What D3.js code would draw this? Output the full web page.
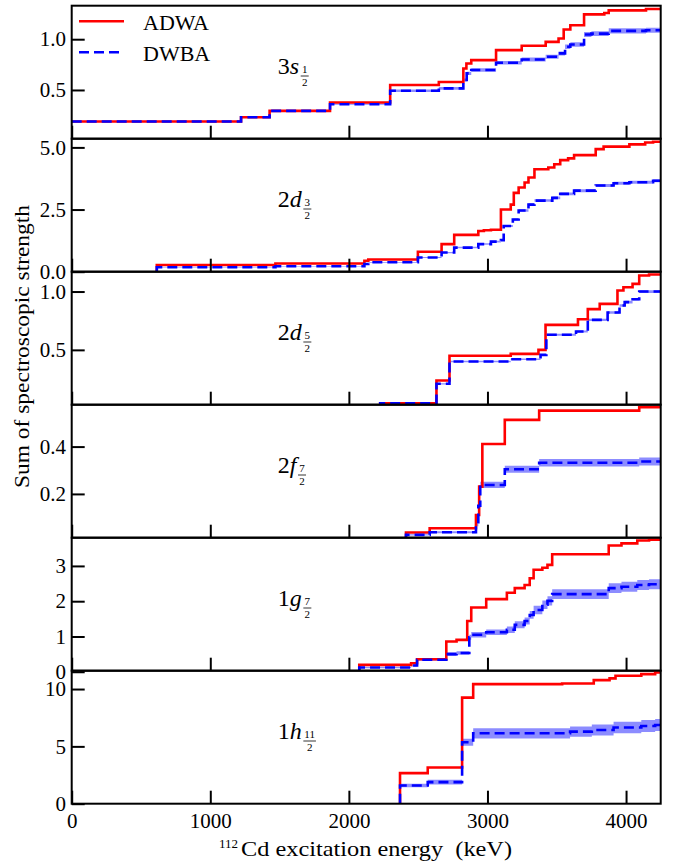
<!DOCTYPE html>
<html><head><meta charset="utf-8">
<script src="https://cdn.jsdelivr.net/npm/d3@7"></script>
<style>body{margin:0;background:#fff} svg{display:block}</style>
</head><body>
<svg id="chart" width="680" height="866"></svg>
<script>
// ---------- data ----------
const xDomain = [0, 4250];
const xTicks = [0, 1000, 2000, 3000, 4000];
const seriesNames = ["ADWA", "DWBA"];

// panel labels: [n, l, numerator, denominator]
const orbitalLabels = [["3","s","1","2"],["2","d","3","2"],["2","d","5","2"],["2","f","7","2"],["1","g","7","2"],["1","h","11","2"]];
const yDomains = [[0.02,1.33],[0,5.35],[0.03,1.17],[0.015,0.577],[0.03,3.8],[0,11.6]];
const yTicks = [[0.5,1.0],[0,2.5,5.0],[0.5,1.0],[0.2,0.4],[0,1,2,3],[0,5,10]];
const yTickFormats = [".1f",".1f",".1f",".1f","d","d"];

// 3s1/2
const s12AdwaE = [0,1222,1428,1864,2298,2649,2826,2848,2883,3062,3247,3420,3513,3550,3598,3697,3843,3875,4144];
const s12AdwaS = [0.19,0.232,0.294,0.376,0.549,0.578,0.712,0.761,0.794,0.892,0.935,0.974,1.007,1.095,1.137,1.245,1.258,1.284,1.297];
const s12DwbaE = [0,1222,1428,1864,2298,2649,2826,2850,2883,3062,3247,3420,3513,3560,3598,3697,3750,3875,4144];
const s12DwbaS = [0.19,0.232,0.294,0.36,0.493,0.516,0.598,0.663,0.696,0.768,0.80,0.827,0.86,0.925,0.948,1.046,1.055,1.082,1.088];
const s12DwbaErr = [0.004,0.004,0.005,0.006,0.012,0.013,0.015,0.016,0.017,0.018,0.019,0.02,0.02,0.022,0.022,0.024,0.024,0.025,0.025];

// 2d3/2
const d32AdwaE = [614,614,1470,2112,2140,2498,2669,2760,2934,2974,3025,3097,3168,3190,3225,3268,3296,3339,3439,3482,3525,3582,3625,3781,3838,4024,4138,4195];
const d32AdwaS = [0,0.27,0.33,0.44,0.49,0.80,1.11,1.48,1.64,1.67,1.69,2.50,2.70,3.17,3.39,3.59,3.79,4.12,4.19,4.32,4.49,4.56,4.69,4.93,5.03,5.12,5.20,5.23];
const d32DwbaE = [614,614,1470,2112,2140,2498,2669,2760,2934,3025,3097,3117,3183,3225,3296,3339,3468,3525,3625,3781,3910,4024,4195];
const d32DwbaS = [0,0.18,0.22,0.31,0.38,0.57,0.77,0.97,1.11,1.21,1.27,1.84,2.10,2.46,2.70,2.86,2.97,3.13,3.26,3.47,3.56,3.60,3.66];
const d32DwbaErr = [0,0.01,0.01,0.015,0.015,0.02,0.025,0.03,0.03,0.035,0.035,0.04,0.045,0.05,0.05,0.05,0.055,0.055,0.06,0.06,0.06,0.06,0.06];

// 2d5/2
const d52AdwaE = [2226,2226,2632,2726,3168,3368,3419,3653,3724,3810,3938,3981,4047,4095,4166];
const d52AdwaS = [0,0.043,0.237,0.449,0.466,0.50,0.714,0.763,0.849,0.894,1.009,1.037,1.066,1.137,1.146];
const d52DwbaE = [2226,2226,2632,2726,3168,3383,3425,3639,3724,3867,3953,3990,4047,4095];
const d52DwbaS = [0,0.043,0.209,0.40,0.42,0.457,0.629,0.657,0.757,0.82,0.88,0.909,0.934,1.0];
const d52DwbaErr = [0,0.003,0.005,0.007,0.007,0.008,0.009,0.009,0.01,0.01,0.011,0.011,0.011,0.012];

// 2f7/2
const f72AdwaE = [2412,2412,2583,2917,2940,2963,3125,3373,4095];
const f72AdwaS = [0,0.037,0.055,0.111,0.231,0.411,0.513,0.552,0.566];
const f72DwbaE = [2412,2412,2583,2917,2934,2948,3125,3373,4095];
const f72DwbaS = [0,0.027,0.038,0.069,0.15,0.238,0.304,0.332,0.337];
const f72DwbaErr = [0,0.003,0.004,0.006,0.01,0.013,0.015,0.016,0.017];

// 1g7/2
const g72AdwaE = [2075,2075,2449,2492,2703,2777,2854,2883,2991,3140,3197,3268,3305,3333,3396,3433,3467,3875,3967,4081,4166];
const g72AdwaS = [0,0.195,0.24,0.356,0.857,0.904,1.44,1.82,2.06,2.24,2.37,2.46,2.65,2.89,2.95,3.03,3.33,3.58,3.64,3.72,3.74];
const g72DwbaE = [2075,2075,2449,2492,2703,2777,2869,2883,2991,3140,3197,3268,3305,3333,3396,3433,3467,3875,3967,4081,4166];
const g72DwbaS = [0,0.12,0.176,0.34,0.50,0.53,0.98,1.05,1.12,1.19,1.33,1.44,1.61,1.75,1.90,2.01,2.20,2.37,2.41,2.46,2.48];
const g72DwbaErr = [0,0.02,0.025,0.03,0.05,0.05,0.07,0.08,0.08,0.09,0.1,0.1,0.11,0.12,0.12,0.13,0.14,0.14,0.14,0.14,0.14];

// 1h11/2
const h112AdwaE = [2369,2369,2569,2817,2897,3539,3767,3881,3924,4110,4210];
const h112AdwaS = [0,2.67,3.16,9.25,10.43,10.49,10.78,10.93,11.16,11.3,11.45];
const h112DwbaE = [2369,2369,2569,2817,2897,3596,3753,3910,4110,4210];
const h112DwbaS = [0,1.59,1.88,5.36,6.14,6.29,6.43,6.64,6.78,6.87];
const h112DwbaErr = [0,0.15,0.2,0.3,0.45,0.45,0.48,0.5,0.52,0.52];

const panels = [
  {aE:s12AdwaE,aS:s12AdwaS,dE:s12DwbaE,dS:s12DwbaS,dErr:s12DwbaErr},
  {aE:d32AdwaE,aS:d32AdwaS,dE:d32DwbaE,dS:d32DwbaS,dErr:d32DwbaErr},
  {aE:d52AdwaE,aS:d52AdwaS,dE:d52DwbaE,dS:d52DwbaS,dErr:d52DwbaErr},
  {aE:f72AdwaE,aS:f72AdwaS,dE:f72DwbaE,dS:f72DwbaS,dErr:f72DwbaErr},
  {aE:g72AdwaE,aS:g72AdwaS,dE:g72DwbaE,dS:g72DwbaS,dErr:g72DwbaErr},
  {aE:h112AdwaE,aS:h112AdwaS,dE:h112DwbaE,dS:h112DwbaS,dErr:h112DwbaErr}
];

// ---------- layout ----------
const FONT = '"Liberation Serif", serif';
const L = 71.7, R = 660.7, T = 5.7, B = 803.7;
const nP = panels.length;
const pH = (B - T) / nP;
const svg = d3.select("#chart");
const x = d3.scaleLinear().domain(xDomain).range([L, R]);
const txt = (sel) => sel.append("text").style("font-family", FONT).attr("fill", "#000");

const defs = svg.append("defs");

panels.forEach((p, i) => {
  const top = T + i * pH, bot = top + pH;
  const y = d3.scaleLinear().domain(yDomains[i]).range([bot, top]);
  const clipId = "clip" + i;
  defs.append("clipPath").attr("id", clipId).append("rect")
    .attr("x", L).attr("y", top).attr("width", R - L).attr("height", pH);
  const g = svg.append("g");
  const plot = g.append("g").attr("clip-path", `url(#${clipId})`);

  const mk = (E, S, extra) => {
    const pts = E.map((e, k) => Object.assign({e, s: S[k]}, extra ? extra(k) : {}));
    const last = pts[pts.length - 1];
    pts.push(Object.assign({}, last, {e: xDomain[1]}));
    return pts;
  };
  const aPts = mk(p.aE, p.aS);
  const dPts = mk(p.dE, p.dS, k => ({err: p.dErr[k]}));

  const area = d3.area().curve(d3.curveStepAfter)
    .x(d => x(d.e)).y0(d => y(d.s - d.err)).y1(d => y(d.s + d.err));
  plot.append("path").datum(dPts).attr("d", area)
    .attr("fill", "#0000ff").attr("fill-opacity", 0.45);

  const line = d3.line().curve(d3.curveStepAfter).x(d => x(d.e)).y(d => y(d.s));
  plot.append("path").datum(aPts).attr("d", line)
    .attr("fill", "none").attr("stroke", "#ff0000").attr("stroke-width", 2.6);
  plot.append("path").datum(dPts).attr("d", line)
    .attr("fill", "none").attr("stroke", "#0000ff").attr("stroke-width", 2.6)
    .attr("stroke-dasharray", "10,5");

  // y axis
  const ya = g.append("g").attr("transform", `translate(${L},0)`)
    .call(d3.axisLeft(y).tickValues(yTicks[i]).tickFormat(d3.format(yTickFormats[i]))
      .tickSizeInner(-13).tickSizeOuter(0).tickPadding(5.7));
  ya.attr("font-family", FONT).attr("font-size", 21);
  ya.select(".domain").remove();
  ya.selectAll(".tick line").attr("stroke", "#000").attr("stroke-width", 2);
  ya.selectAll(".tick text").attr("font-size", 21).style("font-family", FONT);

  // x axis
  const isLast = i === nP - 1;
  const xa = g.append("g").attr("transform", `translate(0,${bot})`)
    .call(d3.axisBottom(x).tickValues(xTicks).tickFormat(isLast ? d3.format("d") : () => "")
      .tickSizeInner(-13).tickSizeOuter(0).tickPadding(9.4));
  xa.attr("font-family", FONT).attr("font-size", 21);
  xa.select(".domain").remove();
  xa.selectAll(".tick line").attr("stroke", "#000").attr("stroke-width", 2);
  xa.selectAll(".tick text").attr("font-size", 21).style("font-family", FONT);

  // frame
  g.append("rect").attr("x", L).attr("y", top).attr("width", R - L).attr("height", pH)
    .attr("fill", "none").attr("stroke", "#000").attr("stroke-width", 2);

  // orbital label
  const lab = orbitalLabels[i];
  const lx = L + 0.35 * (R - L), ly = top + 68.3;
  const t = txt(g).attr("x", lx).attr("y", ly).attr("font-size", 24);
  t.append("tspan").text(lab[0]);
  t.append("tspan").attr("font-style", "italic").text(lab[1]);
  const w = t.node().getComputedTextLength();
  const fx = lx + w + 1.5;
  const num = txt(g).attr("x", fx).attr("y", ly - 1).attr("font-size", 11).text(lab[2]);
  const nw = num.node().getComputedTextLength();
  const fw = Math.max(nw, 6) + 2;
  num.attr("x", fx + fw / 2).attr("text-anchor", "middle");
  g.append("line").attr("x1", fx).attr("x2", fx + fw).attr("y1", ly + 2).attr("y2", ly + 2)
    .attr("stroke", "#000").attr("stroke-width", 0.8);
  txt(g).attr("x", fx + fw / 2).attr("y", ly + 12).attr("text-anchor", "middle")
    .attr("font-size", 11).text(lab[3]);
});

// legend
const legend = svg.append("g");
const legY = [21.3, 52.3];
const legStyles = [{c:"#ff0000", dash:null}, {c:"#0000ff", dash:"10,5"}];
seriesNames.forEach((n, k) => {
  const ln = legend.append("line").attr("x1", 79).attr("x2", 124).attr("y1", legY[k]).attr("y2", legY[k])
    .attr("stroke", legStyles[k].c).attr("stroke-width", 2.6);
  if (legStyles[k].dash) ln.attr("stroke-dasharray", legStyles[k].dash);
  txt(legend).attr("x", 143).attr("y", legY[k] + 9).attr("font-size", 22).text(n);
});

// axis titles
txt(svg).attr("x", 219).attr("y", 848).attr("font-size", 13).text("112");
txt(svg).attr("x", 241).attr("y", 855.7).attr("font-size", 22)
  .attr("textLength", 271).attr("lengthAdjust", "spacingAndGlyphs")
  .style("white-space", "pre").text("Cd excitation energy  (keV)");

txt(svg).attr("transform", "translate(29,346.5) rotate(-90)").attr("text-anchor", "middle")
  .attr("font-size", 22).attr("textLength", 283).attr("lengthAdjust", "spacingAndGlyphs")
  .text("Sum of spectroscopic strength");
</script>
</body></html>
